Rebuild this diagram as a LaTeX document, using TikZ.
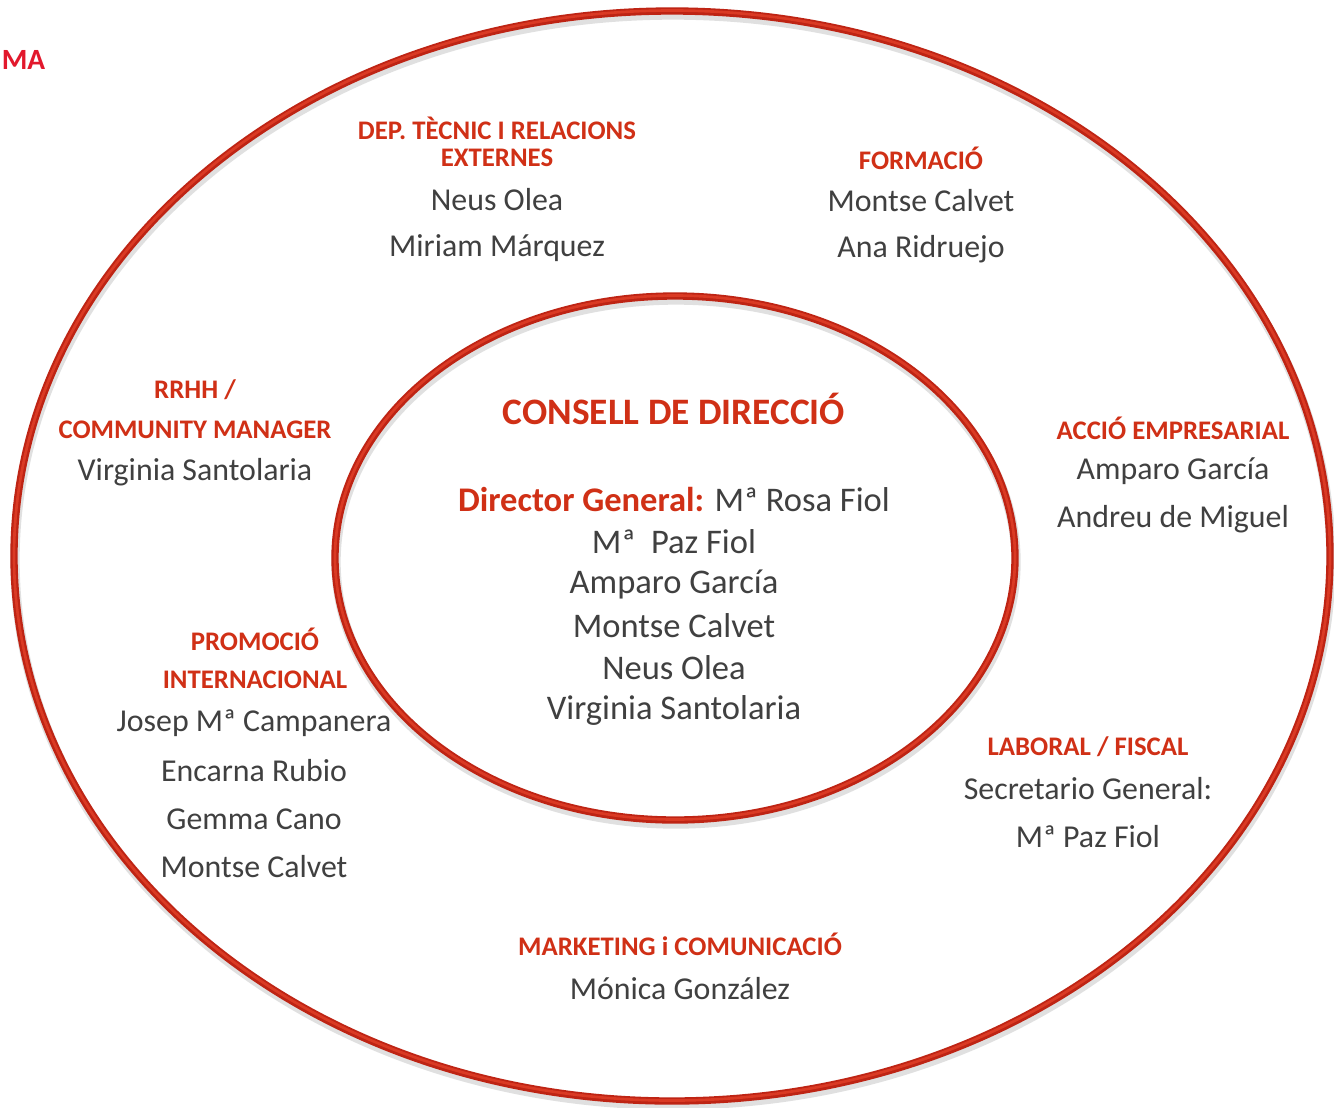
\documentclass[tikz,border=0pt]{standalone}
\usepackage{fontspec}
\setmainfont{Carlito}
\definecolor{headred}{RGB}{208,48,22}
\definecolor{bodygray}{RGB}{64,64,64}
\definecolor{ringred}{RGB}{190,36,20}
\definecolor{ringhi}{RGB}{218,58,36}
\definecolor{titred}{RGB}{226,24,44}
\tikzset{
  head/.style={text=headred,font=\fontsize{20.1}{22}\selectfont\bfseries,inner sep=0pt,anchor=center},
  body/.style={text=bodygray,font=\fontsize{23.9}{26}\selectfont,inner sep=0pt,anchor=center},
  cbody/.style={text=bodygray,font=\fontsize{25.9}{28}\selectfont,inner sep=0pt,anchor=center},
  ctitle/.style={text=headred,font=\fontsize{28}{30}\selectfont\bfseries,inner sep=0pt,anchor=center},
  ringshadow/.style={draw=black!40,opacity=0.3,line width=7},
  ring/.style={draw=ringred,line width=5.5},
  ringhl/.style={draw=ringhi,line width=2},
}
\begin{document}
\begin{tikzpicture}[x=0.75pt,y=-0.75pt]
\useasboundingbox (0,0) rectangle (1334,1107);
\fill[white] (0,0) rectangle (1334,1107);
\begin{scope}
\clip (0,0) rectangle (1334,1107);
% outer ring
\draw[ringshadow] (673,560) ellipse [x radius=658,y radius=545];
\draw[ring] (672,556) ellipse [x radius=658,y radius=545];
\draw[ringhl] (672,555.5) ellipse [x radius=658,y radius=545];
% inner ring
\draw[ringshadow] (676,562) ellipse [x radius=340,y radius=262];
\draw[ring] (675,558) ellipse [x radius=340,y radius=262];
\draw[ringhl] (675,557.5) ellipse [x radius=340,y radius=262];
\end{scope}
% title fragment
\node[text=titred,font=\fontsize{22}{24}\selectfont\bfseries,inner sep=0pt,anchor=west] (tit) at (1.5,60) {MA};
% DEP TECNIC
\node[head] (dep1) at (497,128) {DEP. TÈCNIC I RELACIONS};
\node[head] (dep2) at (497,158) {EXTERNES};
\node[body] (dep3) at (497,200) {Neus Olea};
\node[body] (dep4) at (497,248) {Miriam Márquez};
% FORMACIO
\node[head] (for1) at (921,158) {FORMACIÓ};
\node[body] (for2) at (921,201) {Montse Calvet};
\node[body] (for3) at (921,249) {Ana Ridruejo};
% RRHH
\node[head] (rh1) at (195,390) {RRHH /};
\node[head] (rh2) at (195,430) {COMMUNITY MANAGER};
\node[body] (rh3) at (195,472) {Virginia Santolaria};
% ACCIO
\node[head] (ae1) at (1173,428) {ACCIÓ EMPRESARIAL};
\node[body] (ae2) at (1173,471) {Amparo García};
\node[body] (ae3) at (1173,519) {Andreu de Miguel};
% CONSELL
\node[ctitle] (cd0) at (674,409) {CONSELL DE DIRECCIÓ};
\node[cbody] (cd1) at (674,500) {\textcolor{headred}{\bfseries Director General:} Mª Rosa Fiol};
\node[cbody] (cd2) at (674,542) {Mª\ \ Paz Fiol};
\node[cbody] (cd3) at (674,584) {Amparo García};
\node[cbody] (cd4) at (674,626) {Montse Calvet};
\node[cbody] (cd5) at (674,668) {Neus Olea};
\node[cbody] (cd6) at (674,710) {Virginia Santolaria};
% PROMOCIO
\node[head] (pi1) at (255,639) {PROMOCIÓ};
\node[head] (pi2) at (255,680) {INTERNACIONAL};
\node[body] (pi3) at (254,723) {Josep Mª Campanera};
\node[body] (pi4) at (254,771) {Encarna Rubio};
\node[body] (pi5) at (254,819) {Gemma Cano};
\node[body] (pi6) at (254,867) {Montse Calvet};
% LABORAL
\node[head] (lf1) at (1088,747) {LABORAL / FISCAL};
\node[body] (lf2) at (1088,789) {Secretario General:};
\node[body] (lf3) at (1088,837) {Mª Paz Fiol};
% MARKETING
\node[head] (mk1) at (680,944) {MARKETING i COMUNICACIÓ};
\node[body] (mk2) at (680,989) {Mónica González};
\end{tikzpicture}
\end{document}
